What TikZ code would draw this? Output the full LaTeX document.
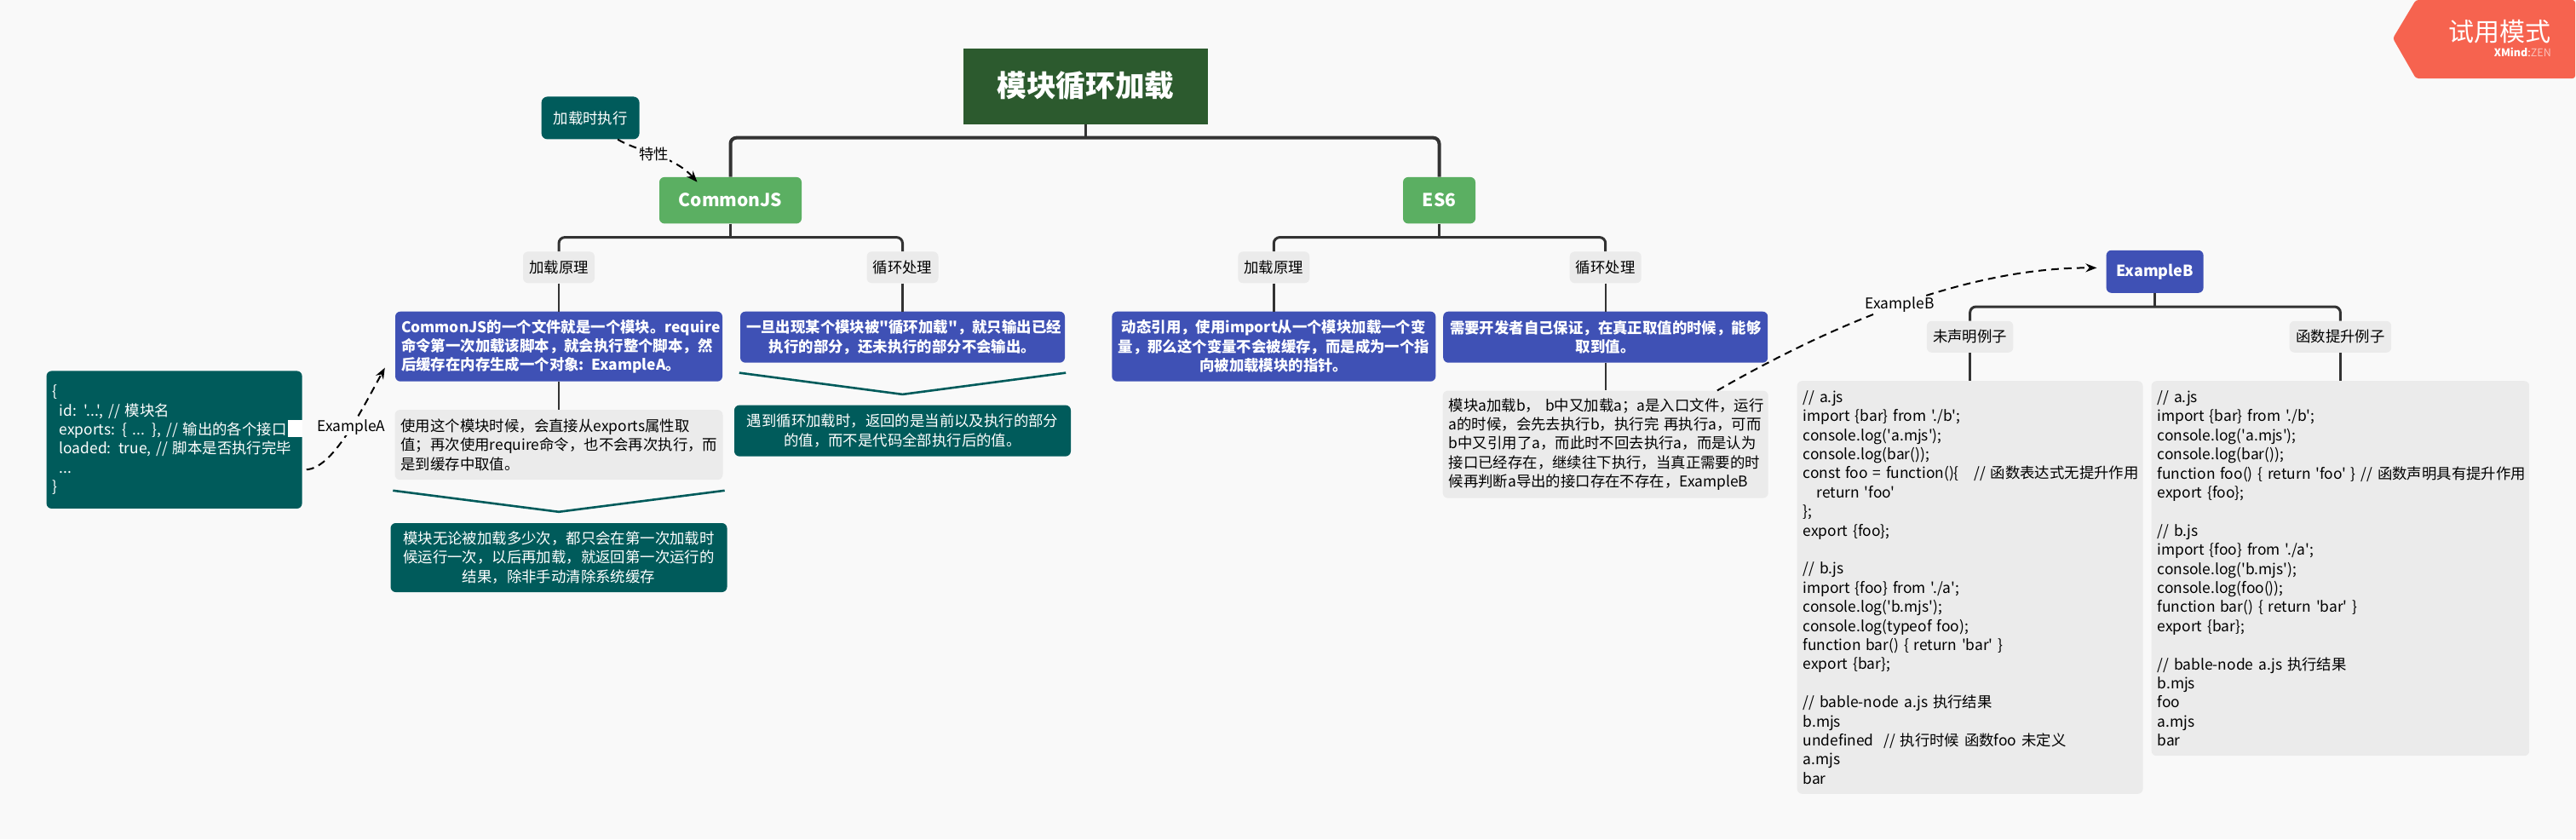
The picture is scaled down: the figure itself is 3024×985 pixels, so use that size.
\documentclass[tikz,border=0pt]{standalone}
\usepackage{fontspec}
\setmainfont{Noto Sans CJK SC}[Ligatures=TeXOff]
\usepackage{xcolor}
\definecolor{cPage}  {HTML}{F9F9F9}
\definecolor{cMoss}  {HTML}{2C5A2E}
\definecolor{cGreen} {HTML}{5BAF62}
\definecolor{cTeal}  {HTML}{005B5B}
\definecolor{cIndigo}{HTML}{3F51B5}
\definecolor{cPanel} {HTML}{EBEBEB}
\definecolor{cCoral} {HTML}{F6634F}
\definecolor{cInk}   {HTML}{333333}
\usepackage{tikz}
\usetikzlibrary{arrows.meta, positioning, calc}
\tikzset{
  body/.style = {font=\fontsize{17.4}{22.4}\selectfont},
  blk/.style  = {rectangle, rounded corners=6pt, text width=#1, inner xsep=7pt,
                 inner ysep=0pt, align=center, body, text=white, fill=cIndigo},
  blk/.default = 370pt,
  tag/.style  = {rectangle, rounded corners=6pt, inner sep=0pt, align=center,
                 body, text=black, fill=cPanel, minimum height=37pt},
  head/.style = {rectangle, rounded corners=6pt, inner sep=0pt, align=center,
                 font=\fontsize{21}{28}\selectfont\bfseries, text=white,
                 fill=cGreen, minimum height=54.5pt},
  stem/.style = {draw=cInk, line width=2.4pt},
  bus/.style  = {draw=cInk, line width=3pt, rounded corners=7pt},
  arr/.style  = {-{Stealth[length=13pt,width=10pt]}, draw=black, line width=2pt,
                 dash pattern=on 9pt off 6pt},
  vee/.style  = {draw=cTeal, line width=2.6pt},
  lbl/.style  = {body, fill=cPage, inner xsep=1pt, inner ysep=1pt},
}

\begin{document}
\begin{tikzpicture}
  \useasboundingbox (0,0) rectangle (3024pt,-985pt);
  \fill[cPage] (0,0) rectangle (3024pt,-985pt);

  \node[rectangle, fill=cMoss, text=white, minimum width=287pt, minimum height=89pt,
        font=\fontsize{34.7}{40}\selectfont\bfseries] (root) at (1274.5pt,-101pt) {模块循环加载};

  % CommonJS side
  \node[head, minimum width=167pt, below=62pt of root, xshift=-417pt] (cjs) {CommonJS};
  \node[blk=101pt, fill=cTeal, rounded corners=7pt, minimum height=50pt,
        left=23pt of cjs, yshift=96.7pt] (trait) {加载时执行};
  \node[tag, minimum width=84pt, below=32.5pt of cjs, xshift=-201.5pt] (cjsa) {加载原理};
  \node[tag, minimum width=84pt, below=32.5pt of cjs, xshift=202pt]    (cjsb) {循环处理};
  \node[blk=370pt, font=\fontsize{17.4}{22.4}\selectfont\bfseries, align=left,
        minimum height=82pt, below=33pt of cjsa] (cjsload)
        {CommonJS的一个文件就是一个模块。require\\命令第一次加载该脚本，就会执行整个脚本，然\\后缓存在内存生成一个对象: ExampleA。};
  \node[blk=371pt, fill=cPanel, text=black, align=left, minimum height=82pt,
        below=33pt of cjsload] (cjsnote)
        {使用这个模块时候，会直接从exports属性取\\值；再次使用require命令，也不会再次执行，而\\是到缓存中取值。};
  \node[blk=381pt, fill=cTeal, minimum height=81pt, below=50.5pt of cjsnote] (cjssum)
        {模块无论被加载多少次，都只会在第一次加载时\\候运行一次，以后再加载，就返回第一次运行的\\结果，除非手动清除系统缓存};
  \node[blk=286pt, fill=cTeal, align=left, minimum height=161.5pt,
        left=109pt of cjsload, yshift=-109.5pt] (exa)
        {\{\\\hspace*{8pt}id: '...', // 模块名\\\hspace*{8pt}exports: \{ ... \}, // 输出的各个接口\\\hspace*{8pt}loaded: true, // 脚本是否执行完毕\\\hspace*{8pt}...\\\}};
  \node[blk=367pt, font=\fontsize{17.4}{22.4}\selectfont\bfseries, minimum height=60pt,
        below=33pt of cjsb] (cjsloop)
        {一旦出现某个模块被"循环加载"，就只输出已经\\执行的部分，还未执行的部分不会输出。};
  \node[blk=381pt, fill=cTeal, minimum height=60pt, below=49.5pt of cjsloop] (loopsum)
        {遇到循环加载时，返回的是当前以及执行的部分\\的值，而不是代码全部执行后的值。};

  % ES6 side
  \node[head, minimum width=85pt, below=62pt of root, xshift=415pt] (es) {ES6};
  \node[tag, minimum width=84pt, below=32.5pt of es, xshift=-194.2pt] (esa) {加载原理};
  \node[tag, minimum width=84pt, below=32.5pt of es, xshift=195.2pt]  (esb) {循环处理};
  \node[blk=366pt, font=\fontsize{17.4}{22.4}\selectfont\bfseries, minimum height=82pt,
        below=33pt of esa] (esload)
        {动态引用，使用import从一个模块加载一个变\\量，那么这个变量不会被缓存，而是成为一个指\\向被加载模块的指针。};
  \node[blk=367pt, font=\fontsize{17.4}{22.4}\selectfont\bfseries, minimum height=60pt,
        below=33pt of esb] (esloop)
        {需要开发者自己保证，在真正取值的时候，能够\\取到值。};
  \node[blk=368pt, fill=cPanel, text=black, align=left, minimum height=126pt,
        below=32.5pt of esloop] (esnote)
        {\mbox{模块a加载b， b中又加载a；a是入口文件，运行}\\\mbox{a的时候，会先去执行b，执行完 再执行a，可而}\\b中又引用了a，而此时不回去执行a，而是认为\\接口已经存在，继续往下执行，当真正需要的时\\\mbox{候再判断a导出的接口存在不存在，ExampleB}};

  % ExampleB
  \node[head, fill=cIndigo, font=\fontsize{18}{24}\selectfont\bfseries, minimum width=114pt,
        minimum height=50pt, right=545.5pt of esb, yshift=-5pt] (exb) {ExampleB};
  \node[tag, minimum width=101.5pt, below=32.6pt of exb, xshift=-217pt]  (exbu) {未声明例子};
  \node[tag, minimum width=119.6pt, below=32.6pt of exb, xshift=217.8pt] (exbh) {函数提升例子};
  \node[blk=392pt, fill=cPanel, text=black, align=left, minimum height=484.6pt,
        below=33pt of exbu] (codeu)
        {// a.js\\import \{bar\} from './b';\\console.log('a.mjs');\\console.log(bar());\\\mbox{const foo = function()\{~~ // 函数表达式无提升作用}\\\hspace*{16pt}return 'foo'\\\};\\export \{foo\};\\~\\// b.js\\import \{foo\} from './a';\\console.log('b.mjs');\\console.log(typeof foo);\\function bar() \{ return 'bar' \}\\export \{bar\};\\~\\// bable-node a.js 执行结果\\b.mjs\\undefined~ // 执行时候 函数foo 未定义\\a.mjs\\bar};
  \node[blk=429.6pt, fill=cPanel, text=black, align=left, minimum height=440pt,
        below=33pt of exbh] (codeh)
        {// a.js\\import \{bar\} from './b';\\console.log('a.mjs');\\console.log(bar());\\\mbox{function foo() \{ return 'foo' \} // 函数声明具有提升作用}\\export \{foo\};\\~\\// b.js\\import \{foo\} from './a';\\console.log('b.mjs');\\console.log(foo());\\function bar() \{ return 'bar' \}\\export \{bar\};\\~\\// bable-node a.js 执行结果\\b.mjs\\foo\\a.mjs\\bar};

  % trial badge
  \fill[cCoral, rounded corners=3pt] (2836pt,0) -- (2809pt,-45pt) -- (2836pt,-92pt) -- (3023pt,-92pt) -- (3023pt,0) -- cycle;
  \node[text=white, inner sep=0pt, font=\fontsize{30}{34}\selectfont, anchor=east] (trial) at (2995pt,-37pt) {试用模式};
  \node[text=white, inner sep=0pt, font=\fontsize{12.5}{14}\selectfont, below=5pt of trial.south east, anchor=north east] (brand)
        {\textbf{XMind}:\textcolor{white!60!cCoral}{ZEN}};

  % tree lines
  \draw[stem, line width=3.4pt] (root.south) -- ++(0,-16pt) coordinate (rootbus);
  \draw[bus, line width=4pt] (cjs.north) |- (rootbus) -| (es.north);
  \draw[stem] (cjs.south) -- ++(0,-16pt) coordinate (cjsbus);
  \draw[bus] (cjsa.north) |- (cjsbus) -| (cjsb.north);
  \draw[stem] (es.south) -- ++(0,-16pt) coordinate (esbus);
  \draw[bus] (esa.north) |- (esbus) -| (esb.north);
  \draw[stem] (exb.south) -- ++(0,-16pt) coordinate (exbbus);
  \draw[bus] (exbu.north) |- (exbbus) -| (exbh.north);
  \draw[stem] (cjsa)--(cjsload);
  \draw[stem] (cjsload)--(cjsnote);
  \draw[stem] (cjsb)--(cjsloop);
  \draw[stem] (esa)--(esload);
  \draw[stem] (esb)--(esloop);
  \draw[stem] (esloop)--(esnote);
  \draw[stem] (exbu)--(codeu);
  \draw[stem] (exbh)--(codeh);

  % summary marks
  \draw[vee] ([shift={(-2pt,-12.5pt)}]cjsnote.south west) -- ([yshift=-37.5pt]cjsnote.south) -- ([shift={(2pt,-12.5pt)}]cjsnote.south east);
  \draw[vee] ([shift={(-1pt,-11.7pt)}]cjsloop.south west) -- ([yshift=-37pt]cjsloop.south) -- ([shift={(1pt,-11.7pt)}]cjsloop.south east);

  % dashed relations
  \fill[white] ([shift={(-17pt,23.5pt)}]exa.east) rectangle ([shift={(0pt,3pt)}]exa.east);
  \draw[arr] ([shift={(5pt,-35pt)}]exa.east) .. controls +(30pt,2pt) and (420pt,-490pt) .. ([shift={(-12pt,-25pt)}]cjsload.west)
        node[lbl, pos=0.58] (exalbl) {ExampleA};
  \draw[arr] ([xshift=32pt]trait.south) .. controls +(25pt,-15pt) and (790pt,-182pt) .. ([shift={(-39pt,-6pt)}]cjs.north)
        node[lbl, pos=0.47] (traitlbl) {特性};
  \draw[arr] ([shift={(-60pt,0pt)}]esnote.north east) .. controls (2170pt,-370pt) and (2320pt,-314pt) .. ([xshift=-11pt,yshift=4.4pt]exb.west)
        node[lbl, pos=0.47] (exblbl) {ExampleB};
\end{tikzpicture}
\end{document}
